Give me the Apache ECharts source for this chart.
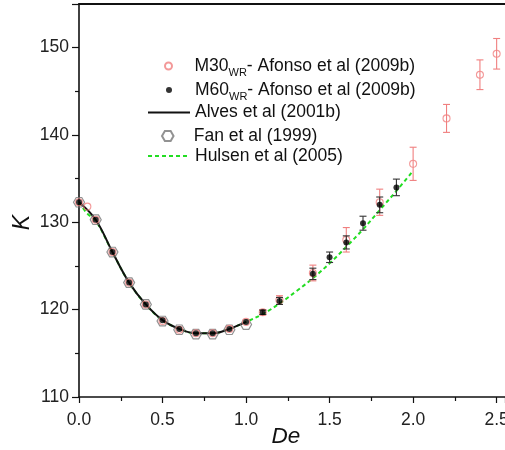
<!DOCTYPE html>
<html>
<head>
<meta charset="utf-8">
<script src="https://cdn.jsdelivr.net/npm/echarts@6/dist/echarts.min.js"></script>
<style>html,body{margin:0;padding:0;background:#fff}#c{width:505px;height:450px}</style>
</head>
<body>
<div id="c"></div>
<script>
// ---- data ----
const alvesX = [0, 0.1, 0.2, 0.3, 0.4, 0.5, 0.6, 0.7, 0.8, 0.9, 1.0];
const alvesY = [132.3, 130.3, 126.6, 123.1, 120.6, 118.8, 117.8, 117.3, 117.3, 117.8, 118.6];

const fanX = [0, 0.1, 0.2, 0.3, 0.4, 0.5, 0.6, 0.7, 0.8, 0.9, 1.0];
const fanY = [132.3, 130.3, 126.6, 123.1, 120.6, 118.7, 117.7, 117.2, 117.2, 117.7, 118.3];

const m30X = [0, 0.05, 0.1, 0.2, 0.3, 0.4, 0.5, 0.6, 0.7, 0.8, 0.9, 1.0, 1.1, 1.2, 1.4, 1.6, 1.8, 2.0, 2.2, 2.4, 2.5];
const m30Y = [132.3, 131.8, 130.3, 126.6, 123.1, 120.6, 118.7, 117.7, 117.3, 117.3, 117.8, 118.6, 119.7, 121.1, 124.2, 128.0, 132.3, 136.7, 141.9, 146.9, 149.3];
const m30E = [0, 0, 0, 0, 0, 0, 0, 0, 0, 0, 0, 0, 0.3, 0.5, 0.9, 1.4, 1.5, 1.9, 1.6, 1.7, 1.75];

const m60X = [0, 0.1, 0.2, 0.3, 0.4, 0.5, 0.6, 0.7, 0.8, 0.9, 1.0, 1.1, 1.2, 1.4, 1.5, 1.6, 1.7, 1.8, 1.9];
const m60Y = [132.3, 130.3, 126.6, 123.1, 120.6, 118.8, 117.8, 117.3, 117.3, 117.8, 118.6, 119.7, 121.0, 124.1, 126.0, 127.7, 129.9, 132.0, 134.0];
const m60E = [0, 0, 0, 0, 0, 0, 0, 0, 0, 0, 0, 0.25, 0.4, 0.65, 0.6, 0.75, 0.8, 0.9, 0.95];

const hulX = [0, 0.05, 0.1, 0.2, 0.3, 0.4, 0.5, 0.6, 0.7, 0.8, 0.9, 1.0, 1.1, 1.2, 1.3, 1.4, 1.5, 1.6, 1.7, 1.8, 1.9, 2.0];
const hulY = [132.3, 131.0, 130.2, 126.6, 123.1, 120.6, 118.8, 117.8, 117.3, 117.3, 117.8, 118.6, 119.5, 120.7, 122.1, 123.6, 125.3, 127.2, 129.2, 131.4, 133.6, 135.9];

const xTicks = [0, 0.5, 1.0, 1.5, 2.0, 2.5];
const yTicks = [110, 120, 130, 140, 150];

const names = {
  m30: 'M30', m60: 'M60', alves: 'Alves et al (2001b)', fan: 'Fan et al (1999)', hul: 'Hulsen et al (2005)'
};

// ---- build ----
const pairs = (xs, ys) => xs.map((x, i) => [x, ys[i]]);
const errData = (xs, ys, es) => xs.map((x, i) => [x, ys[i], es[i]]).filter(d => d[2] > 0);
const RED = '#f07f7f';
const FONT = 'Liberation Sans, Arial, sans-serif';
const FS = 17.5;

function errRender(color) {
  return function (params, api) {
    const x = api.value(0), y = api.value(1), e = api.value(2);
    const t = api.coord([x, y + e]), b = api.coord([x, y - e]);
    const hw = 3.5;
    const st = { stroke: color, lineWidth: 1.1 };
    return {
      type: 'group',
      children: [
        { type: 'line', shape: { x1: t[0], y1: t[1], x2: b[0], y2: b[1] }, style: st },
        { type: 'line', shape: { x1: t[0] - hw, y1: t[1], x2: t[0] + hw, y2: t[1] }, style: st },
        { type: 'line', shape: { x1: b[0] - hw, y1: b[1], x2: b[0] + hw, y2: b[1] }, style: st }
      ]
    };
  };
}

const hexPath = 'path://M-10,0L-5,-8.66L5,-8.66L10,0L5,8.66L-5,8.66Z';

const textStyle = { fontFamily: FONT, fontSize: FS, color: '#111', lineHeight: 24,
  rich: {
    a: { fontFamily: FONT, fontSize: FS, color: '#111', lineHeight: 24, verticalAlign: 'middle' },
    s: { fontFamily: FONT, fontSize: 11, color: '#111', lineHeight: 10, verticalAlign: 'bottom' }
  }
};
const legendBase = {
  orient: 'vertical', left: 147, padding: 0, itemWidth: 42, itemGap: 0,
  textStyle: textStyle,
  formatter: function (n) {
    if (n === names.m30 || n === names.m60) return '{a|' + n + '}{s|WR}{a|- Afonso et al (2009b)}';
    return n;
  }
};
const mk = (name, cy, ih, extra) => Object.assign({}, legendBase, { data: [name], top: cy - 12, itemHeight: ih }, extra || {});

const option = {
  animation: false,
  backgroundColor: '#fff',
  grid: { left: 79, right: 0, top: 4, bottom: 53, containLabel: false, outerBoundsMode: 'none' },
  legend: [
    mk(names.m30, 66, 7, { left: 164 }),
    mk(names.m60, 90, 6, { left: 166 }),
    mk(names.alves, 112.5, 14, { itemStyle: { opacity: 0 } }),
    mk(names.fan, 136, 10, { left: 161 }),
    mk(names.hul, 156, 14, { itemStyle: { opacity: 0 } })
  ],
  xAxis: [{
    type: 'value', min: 0, max: 2.55, interval: 0.5,
    name: 'De', nameLocation: 'middle', nameGap: 28, nameMoveOverlap: false,
    nameTextStyle: { fontFamily: FONT, fontSize: 22.5, fontStyle: 'italic', color: '#111', padding: [0, 12, 0, 0] },
    axisLine: { lineStyle: { color: '#111', width: 1.6 } },
    axisTick: { length: 6, lineStyle: { color: '#111', width: 1.2 } },
    minorTick: { show: true, splitNumber: 2, length: 4, lineStyle: { color: '#111', width: 1.2 } },
    splitLine: { show: false },
    axisLabel: {
      fontFamily: FONT, fontSize: FS, color: '#222', margin: 14,
      formatter: v => xTicks.some(t => Math.abs(t - v) < 1e-6) ? v.toFixed(1) : ''
    }
  }, {
    type: 'value', position: 'top', min: 0, max: 2.55,
    axisLine: { show: true, lineStyle: { color: '#111', width: 2 } },
    axisTick: { show: false }, axisLabel: { show: false }, splitLine: { show: false }
  }],
  yAxis: [{
    type: 'value', min: 110, max: 155, interval: 10,
    name: 'K', nameLocation: 'middle', nameGap: 45, nameMoveOverlap: false,
    nameTextStyle: { fontFamily: FONT, fontSize: 23, fontStyle: 'italic', color: '#111', padding: [0, 44, 0, 0] },
    axisLine: { show: true, lineStyle: { color: '#111', width: 1.6 } },
    axisTick: { show: true, length: 7, lineStyle: { color: '#111', width: 1.2 } },
    minorTick: { show: true, splitNumber: 2, length: 4, lineStyle: { color: '#111', width: 1.2 } },
    splitLine: { show: false },
    axisLabel: {
      fontFamily: FONT, fontSize: FS, color: '#222', margin: 10,
      formatter: v => yTicks.includes(v) ? String(v) : ''
    }
  }],
  series: [
    {
      name: names.hul, type: 'line', data: pairs(hulX, hulY), smooth: 0.4, symbol: 'none', z: 1,
      lineStyle: { color: '#22dd22', width: 2, type: [4, 3] }, itemStyle: { color: '#22dd22' }
    },
    {
      name: names.alves, type: 'line', data: pairs(alvesX, alvesY), smooth: 0.4, symbol: 'none', z: 2,
      lineStyle: { color: '#111', width: 2 }, itemStyle: { color: '#111' }
    },
    {
      name: names.fan, type: 'scatter', data: pairs(fanX, fanY), symbol: hexPath, symbolKeepAspect: true, symbolSize: 11, z: 3,
      itemStyle: { color: 'rgba(255,255,255,0)', borderColor: '#777', borderWidth: 1.2 }
    },
    {
      type: 'custom', data: errData(m30X, m30Y, m30E), renderItem: errRender(RED), z: 4, silent: true
    },
    {
      name: names.m30, type: 'scatter', data: pairs(m30X, m30Y), symbol: 'circle', symbolSize: 7, z: 5,
      itemStyle: { color: 'rgba(255,255,255,0)', borderColor: RED, borderWidth: 1.1 }
    },
    {
      type: 'custom', data: errData(m60X, m60Y, m60E), renderItem: errRender('#333'), z: 6, silent: true
    },
    {
      name: names.m60, type: 'scatter', data: pairs(m60X, m60Y), symbol: 'circle', symbolSize: 6, z: 7,
      itemStyle: { color: '#000' }
    }
  ]
};

const chart = echarts.init(document.getElementById('c'), null, { renderer: 'canvas' });
chart.setOption(option);
</script>
</body>
</html>
